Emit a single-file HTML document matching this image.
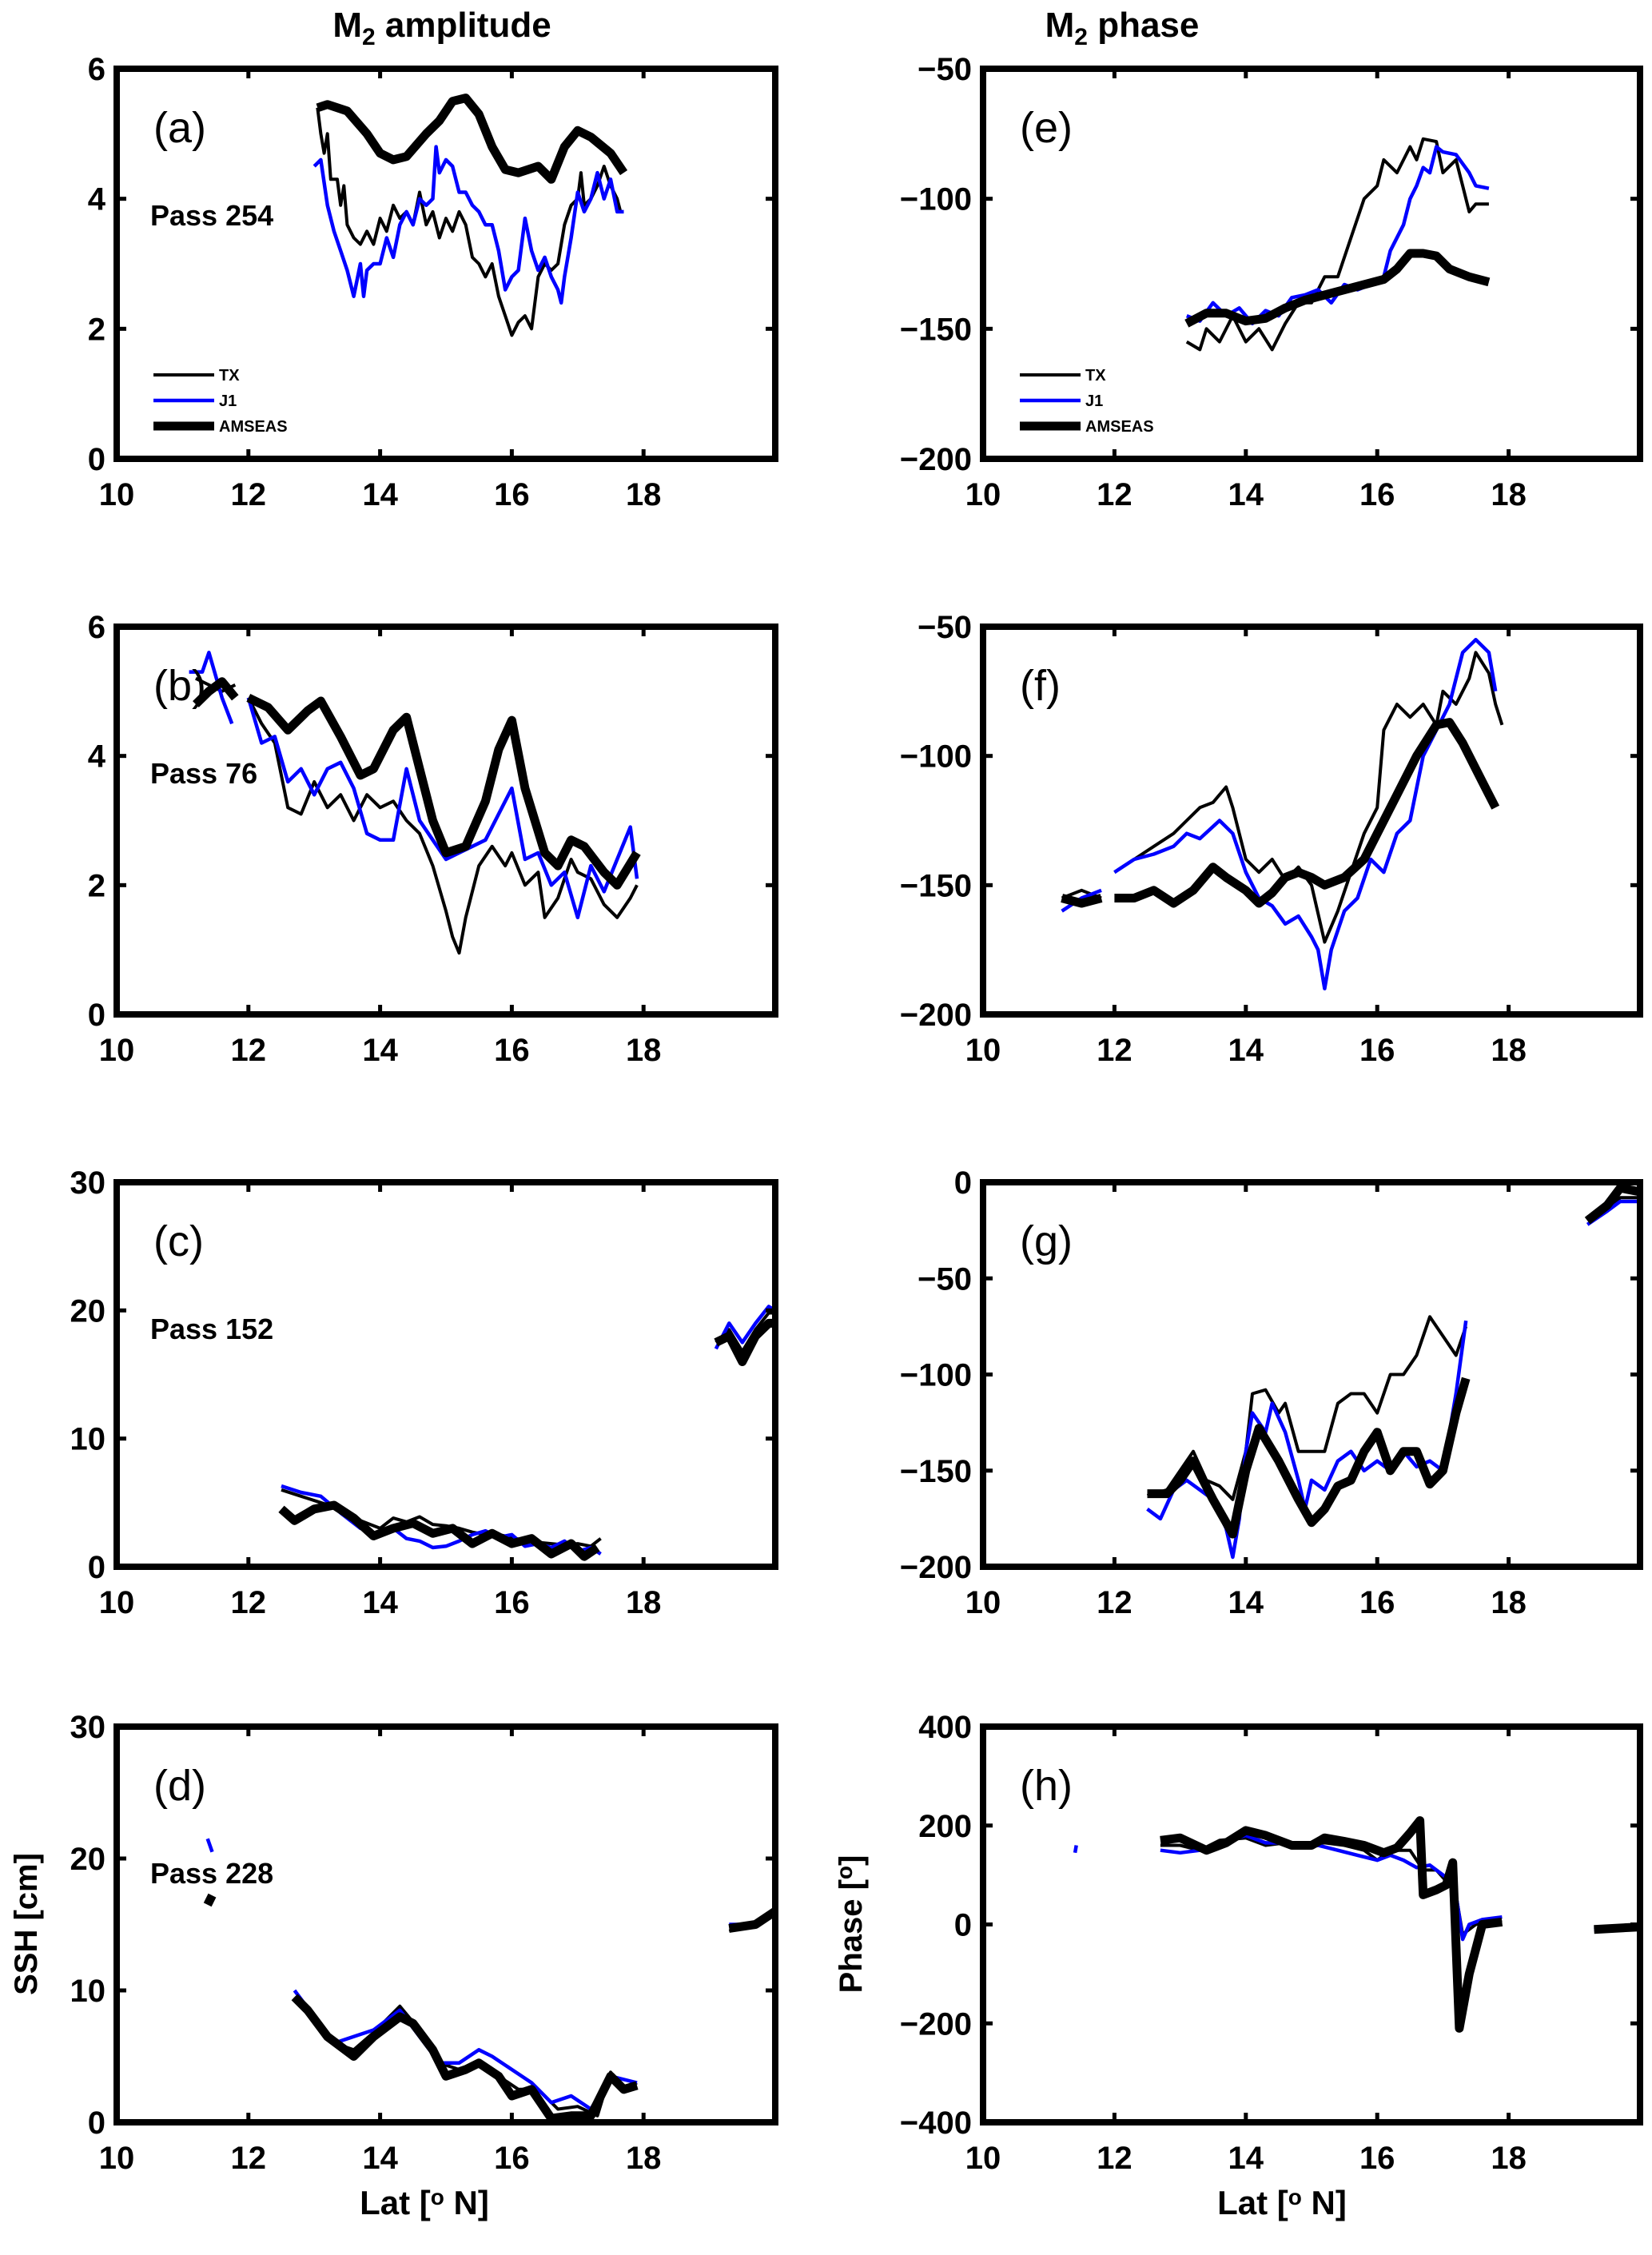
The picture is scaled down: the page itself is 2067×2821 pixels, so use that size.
<!DOCTYPE html>
<html><head><meta charset="utf-8"><style>
html,body{margin:0;padding:0;background:#fff}
svg text{font-family:"Liberation Sans",Arial,sans-serif;font-weight:bold}
</style></head><body>
<svg id="fig" xmlns="http://www.w3.org/2000/svg" width="2067" height="2798" viewBox="0 0 2067 2798"></svg>
<script>
const panelIds=['a','b','c','d','e','f','g','h'];
const passLabels=['Pass 254','Pass 76','Pass 152','Pass 228'];
const xTicks=[10,12,14,16,18];
const yTicksA=[0,2,4,6];
const yTicksC=[0,10,20,30];
const yTicksE=[-200,-150,-100,-50];
const yTicksG=[-200,-150,-100,-50,0];
const yTicksH=[-400,-200,0,200,400];
// data: [lat, value] pairs, null breaks line
const aTX=[[13.05,5.4],[13.1,5.0],[13.15,4.7],[13.2,5.0],[13.25,4.3],[13.35,4.3],[13.4,3.9],[13.45,4.2],[13.5,3.6],[13.6,3.4],[13.7,3.3],[13.8,3.5],[13.9,3.3],[14.0,3.7],[14.1,3.5],[14.2,3.9],[14.3,3.7],[14.4,3.8],[14.5,3.6],[14.6,4.1],[14.7,3.6],[14.8,3.8],[14.9,3.4],[15.0,3.7],[15.1,3.5],[15.2,3.8],[15.3,3.6],[15.4,3.1],[15.5,3.0],[15.6,2.8],[15.7,3.0],[15.8,2.5],[15.9,2.2],[16.0,1.9],[16.1,2.1],[16.2,2.2],[16.3,2.0],[16.4,2.8],[16.5,3.0],[16.6,2.9],[16.7,3.0],[16.8,3.6],[16.9,3.9],[17.0,4.0],[17.05,4.4],[17.1,3.9],[17.2,4.0],[17.3,4.2],[17.4,4.5],[17.5,4.2],[17.6,4.0],[17.65,3.8]];
const aJ1=[[13.0,4.5],[13.1,4.6],[13.2,3.9],[13.3,3.5],[13.4,3.2],[13.5,2.9],[13.6,2.5],[13.7,3.0],[13.75,2.5],[13.8,2.9],[13.9,3.0],[14.0,3.0],[14.1,3.4],[14.2,3.1],[14.3,3.6],[14.4,3.8],[14.5,3.6],[14.6,4.0],[14.7,3.9],[14.8,4.0],[14.85,4.8],[14.9,4.4],[15.0,4.6],[15.1,4.5],[15.2,4.1],[15.3,4.1],[15.4,3.9],[15.5,3.8],[15.6,3.6],[15.7,3.6],[15.8,3.2],[15.9,2.6],[16.0,2.8],[16.1,2.9],[16.2,3.7],[16.3,3.2],[16.4,2.9],[16.5,3.1],[16.6,2.8],[16.7,2.6],[16.75,2.4],[16.8,2.8],[16.9,3.4],[17.0,4.1],[17.1,3.8],[17.2,4.0],[17.3,4.4],[17.4,4.0],[17.5,4.3],[17.6,3.8],[17.7,3.8]];
const aAM=[[13.05,5.4],[13.2,5.45],[13.5,5.35],[13.8,5.0],[14.0,4.7],[14.2,4.6],[14.4,4.65],[14.7,5.0],[14.9,5.2],[15.1,5.5],[15.3,5.55],[15.5,5.3],[15.7,4.8],[15.9,4.45],[16.1,4.4],[16.4,4.5],[16.6,4.3],[16.8,4.8],[17.0,5.05],[17.2,4.95],[17.5,4.7],[17.7,4.4]];
const bTX=[[11.2,5.2],[11.4,5.1],[11.6,5.0],[11.8,5.1],null,[12.0,4.9],[12.2,4.5],[12.4,4.2],[12.6,3.2],[12.8,3.1],[13.0,3.6],[13.2,3.2],[13.4,3.4],[13.6,3.0],[13.8,3.4],[14.0,3.2],[14.2,3.3],[14.4,3.0],[14.6,2.8],[14.8,2.3],[15.0,1.6],[15.1,1.2],[15.2,0.95],[15.3,1.5],[15.5,2.3],[15.7,2.6],[15.9,2.3],[16.0,2.5],[16.2,2.0],[16.4,2.2],[16.5,1.5],[16.7,1.8],[16.9,2.4],[17.0,2.2],[17.2,2.1],[17.4,1.7],[17.6,1.5],[17.8,1.8],[17.9,2.0]];
const bJ1=[[11.1,5.3],[11.3,5.3],[11.4,5.6],[11.6,4.9],[11.75,4.5],null,[12.0,4.9],[12.2,4.2],[12.4,4.3],[12.6,3.6],[12.8,3.8],[13.0,3.4],[13.2,3.8],[13.4,3.9],[13.6,3.5],[13.8,2.8],[14.0,2.7],[14.2,2.7],[14.4,3.8],[14.6,3.0],[14.8,2.7],[15.0,2.4],[15.2,2.5],[15.4,2.6],[15.6,2.7],[15.8,3.1],[16.0,3.5],[16.2,2.4],[16.4,2.5],[16.6,2.0],[16.8,2.2],[17.0,1.5],[17.2,2.3],[17.4,1.9],[17.6,2.4],[17.8,2.9],[17.9,2.1]];
const bAM=[[11.2,4.8],[11.4,5.0],[11.6,5.15],[11.8,4.9],null,[12.0,4.9],[12.3,4.75],[12.6,4.4],[12.9,4.7],[13.1,4.85],[13.4,4.3],[13.7,3.7],[13.9,3.8],[14.2,4.4],[14.4,4.6],[14.6,3.8],[14.8,3.0],[15.0,2.5],[15.3,2.6],[15.6,3.3],[15.8,4.1],[16.0,4.55],[16.2,3.5],[16.5,2.5],[16.7,2.3],[16.9,2.7],[17.1,2.6],[17.4,2.2],[17.6,2.0],[17.9,2.5]];
const cTX=[[12.5,6.0],[12.8,5.5],[13.1,5.0],[13.4,4.5],[13.7,3.6],[14.0,3.0],[14.2,3.8],[14.4,3.5],[14.6,3.9],[14.8,3.3],[15.0,3.2],[15.2,3.0],[15.4,2.7],[15.6,2.5],[15.8,2.5],[16.0,2.3],[16.2,2.0],[16.4,1.9],[16.6,1.8],[16.8,1.7],[17.0,1.8],[17.2,1.6],[17.35,2.2],null,[19.1,17.5],[19.3,18.5],[19.5,16.8],[19.7,18.5],[19.9,19.8],[20.0,19.8]];
const cJ1=[[12.5,6.3],[12.8,5.8],[13.1,5.5],[13.4,4.2],[13.7,3.0],[14.0,2.5],[14.2,3.0],[14.4,2.2],[14.6,2.0],[14.8,1.5],[15.0,1.6],[15.2,2.0],[15.4,2.5],[15.6,2.8],[15.8,2.3],[16.0,2.5],[16.2,1.6],[16.4,1.8],[16.6,1.5],[16.8,2.0],[17.0,1.2],[17.2,1.5],[17.35,1.0],null,[19.1,17.0],[19.3,19.0],[19.5,17.5],[19.7,19.0],[19.9,20.3],[20.0,20.0]];
const cAM=[[12.5,4.5],[12.7,3.6],[13.0,4.5],[13.3,4.8],[13.6,3.8],[13.9,2.4],[14.2,3.0],[14.5,3.4],[14.8,2.6],[15.1,3.0],[15.4,1.8],[15.7,2.6],[16.0,1.8],[16.3,2.2],[16.6,1.0],[16.9,1.8],[17.1,0.8],[17.3,1.5],null,[19.1,17.5],[19.3,18.0],[19.5,16.0],[19.7,18.0],[19.9,19.0],[20.0,19.0]];
const dTX=[[12.7,9.5],[13.0,8.0],[13.3,6.0],[13.6,5.5],[13.9,6.8],[14.3,8.8],[14.6,7.0],[14.9,4.5],[15.2,4.0],[15.5,4.5],[15.8,3.5],[16.1,2.5],[16.4,2.5],[16.7,1.0],[17.0,1.2],[17.3,0.5],[17.5,3.8],[17.7,2.6],[17.9,3.0],null,[19.3,14.5],[19.7,15.0],[20.0,15.8]];
const dJ1=[[11.38,21.5],[11.45,20.5],null,[12.7,10],[13.0,8.0],[13.3,6.0],[13.6,6.5],[13.9,7.0],[14.3,8.5],[14.6,6.5],[14.9,4.5],[15.2,4.5],[15.5,5.5],[15.7,5.0],[16.0,4.0],[16.3,3.0],[16.6,1.5],[16.9,2.0],[17.2,1.0],[17.5,3.5],[17.9,3.0],null,[19.3,15],[19.7,15.0],[20.0,16]];
const dAM=[[11.38,16.5],[11.45,17.2],null,[12.7,9.5],[12.9,8.5],[13.2,6.5],[13.6,5.0],[13.9,6.5],[14.3,8.0],[14.5,7.5],[14.8,5.5],[15.0,3.5],[15.3,4.0],[15.5,4.5],[15.8,3.5],[16.0,2.0],[16.3,2.5],[16.6,0.3],[16.9,0.5],[17.2,0.5],[17.5,3.5],[17.7,2.5],[17.9,2.8],null,[19.3,14.7],[19.7,15.0],[20.0,16.0]];
const eTX=[[13.1,-155],[13.3,-158],[13.4,-150],[13.6,-155],[13.8,-145],[14.0,-155],[14.2,-150],[14.4,-158],[14.6,-148],[14.8,-140],[15.0,-140],[15.2,-130],[15.4,-130],[15.6,-115],[15.8,-100],[16.0,-95],[16.1,-85],[16.3,-90],[16.5,-80],[16.6,-85],[16.7,-77],[16.9,-78],[17.0,-90],[17.2,-85],[17.3,-95],[17.4,-105],[17.5,-102],[17.7,-102]];
const eJ1=[[13.1,-145],[13.3,-147],[13.5,-140],[13.7,-145],[13.9,-142],[14.1,-148],[14.3,-143],[14.5,-145],[14.7,-138],[14.9,-137],[15.1,-135],[15.3,-140],[15.5,-133],[15.7,-135],[15.9,-133],[16.1,-130],[16.2,-120],[16.4,-110],[16.5,-100],[16.6,-95],[16.7,-88],[16.8,-90],[16.9,-80],[17.0,-82],[17.2,-83],[17.4,-90],[17.5,-95],[17.7,-96]];
const eAM=[[13.1,-148],[13.4,-144],[13.7,-144],[14.0,-147],[14.3,-146],[14.6,-142],[14.9,-139],[15.2,-137],[15.5,-135],[15.8,-133],[16.1,-131],[16.3,-127],[16.5,-121],[16.7,-121],[16.9,-122],[17.1,-127],[17.4,-130],[17.7,-132]];
const fTX=[[11.2,-155],[11.5,-152],[11.8,-155],null,[12.0,-145],[12.3,-140],[12.6,-135],[12.9,-130],[13.1,-125],[13.3,-120],[13.5,-118],[13.7,-112],[13.8,-120],[14.0,-140],[14.2,-145],[14.4,-140],[14.6,-148],[14.8,-143],[15.0,-150],[15.2,-172],[15.4,-160],[15.6,-145],[15.8,-130],[16.0,-120],[16.1,-90],[16.3,-80],[16.5,-85],[16.7,-80],[16.9,-88],[17.0,-75],[17.2,-80],[17.4,-70],[17.5,-60],[17.7,-68],[17.8,-80],[17.9,-88]];
const fJ1=[[11.2,-160],[11.5,-155],[11.8,-152],null,[12.0,-145],[12.3,-140],[12.6,-138],[12.9,-135],[13.1,-130],[13.3,-132],[13.6,-125],[13.8,-130],[14.0,-145],[14.2,-155],[14.4,-158],[14.6,-165],[14.8,-162],[15.0,-170],[15.1,-175],[15.2,-190],[15.3,-175],[15.5,-160],[15.7,-155],[15.9,-140],[16.1,-145],[16.3,-130],[16.5,-125],[16.7,-100],[16.9,-90],[17.1,-80],[17.3,-60],[17.5,-55],[17.7,-60],[17.8,-75]];
const fAM=[[11.2,-155],[11.5,-157],[11.8,-155],null,[12.0,-155],[12.3,-155],[12.6,-152],[12.9,-157],[13.2,-152],[13.5,-143],[13.7,-147],[14.0,-152],[14.2,-157],[14.4,-153],[14.6,-147],[14.8,-145],[15.0,-147],[15.2,-150],[15.5,-147],[15.8,-140],[16.0,-130],[16.3,-115],[16.6,-100],[16.9,-88],[17.1,-87],[17.3,-95],[17.6,-110],[17.8,-120]];
const gTX=[[12.5,-163],[12.8,-160],[13.0,-150],[13.2,-140],[13.4,-155],[13.6,-158],[13.8,-165],[14.0,-140],[14.1,-110],[14.3,-108],[14.5,-120],[14.6,-115],[14.8,-140],[15.0,-140],[15.2,-140],[15.4,-115],[15.6,-110],[15.8,-110],[16.0,-120],[16.2,-100],[16.4,-100],[16.6,-90],[16.8,-70],[17.0,-80],[17.2,-90],[17.35,-75],null,[19.2,-18],[19.5,-15],[19.7,-8],[20.0,-8]];
const gJ1=[[12.5,-170],[12.7,-175],[12.9,-160],[13.1,-155],[13.3,-160],[13.5,-165],[13.7,-180],[13.8,-195],[13.9,-175],[14.0,-140],[14.1,-120],[14.3,-130],[14.4,-115],[14.6,-130],[14.8,-155],[14.9,-170],[15.0,-155],[15.2,-160],[15.4,-145],[15.6,-140],[15.8,-150],[16.0,-145],[16.2,-150],[16.4,-140],[16.6,-148],[16.8,-145],[17.0,-150],[17.2,-110],[17.35,-72],null,[19.2,-22],[19.5,-15],[19.7,-10],[20.0,-10]];
const gAM=[[12.5,-162],[12.8,-162],[13.0,-155],[13.2,-145],[13.5,-165],[13.8,-183],[14.0,-150],[14.2,-128],[14.5,-145],[14.8,-165],[15.0,-177],[15.2,-170],[15.4,-158],[15.6,-155],[15.8,-140],[16.0,-130],[16.2,-150],[16.4,-140],[16.6,-140],[16.8,-157],[17.0,-150],[17.2,-120],[17.35,-102],null,[19.2,-20],[19.5,-12],[19.7,-3],[20.0,-5]];
const hTX=[[12.7,160],[13.0,160],[13.3,150],[13.6,170],[14.0,175],[14.3,160],[14.6,165],[14.9,160],[15.2,165],[15.5,160],[15.8,150],[16.0,130],[16.2,150],[16.5,150],[16.7,110],[16.9,110],[17.1,80],[17.2,60],[17.3,-20],[17.5,0],[17.7,5],[17.9,5],null,[19.3,-10],[20.0,-5]];
const hJ1=[[11.4,145],[11.42,160],null,[12.7,150],[13.0,145],[13.3,150],[13.6,165],[14.0,180],[14.3,165],[14.6,165],[14.9,155],[15.1,160],[15.4,150],[15.7,140],[16.0,130],[16.2,140],[16.4,130],[16.6,115],[16.8,120],[17.0,100],[17.1,90],[17.2,60],[17.3,-30],[17.4,0],[17.6,10],[17.9,15],null,[19.3,-10],[20.0,-5]];
const hAM=[[12.7,170],[13.0,175],[13.4,150],[13.7,165],[14.0,190],[14.3,180],[14.7,160],[15.0,160],[15.2,175],[15.5,168],[15.8,160],[16.1,145],[16.3,155],[16.5,185],[16.65,210],[16.7,60],[16.9,70],[17.05,80],[17.15,125],[17.25,-210],[17.4,-100],[17.6,0],[17.9,5],null,[19.3,-10],[20.0,-5]];

const panels=[
 {id:'a',x0:146,x1:970,y0:86,y1:574,ymin:0,ymax:6,ticks:yTicksA,tx:aTX,j1:aJ1,am:aAM,pass:passLabels[0],legend:true},
 {id:'b',x0:146,x1:970,y0:784,y1:1269,ymin:0,ymax:6,ticks:yTicksA,tx:bTX,j1:bJ1,am:bAM,pass:passLabels[1]},
 {id:'c',x0:146,x1:970,y0:1479,y1:1960,ymin:0,ymax:30,ticks:yTicksC,tx:cTX,j1:cJ1,am:cAM,pass:passLabels[2]},
 {id:'d',x0:146,x1:970,y0:2160,y1:2655,ymin:0,ymax:30,ticks:yTicksC,tx:dTX,j1:dJ1,am:dAM,pass:passLabels[3]},
 {id:'e',x0:1230,x1:2052,y0:86,y1:574,ymin:-200,ymax:-50,ticks:yTicksE,tx:eTX,j1:eJ1,am:eAM,legend:true},
 {id:'f',x0:1230,x1:2052,y0:784,y1:1269,ymin:-200,ymax:-50,ticks:yTicksE,tx:fTX,j1:fJ1,am:fAM},
 {id:'g',x0:1230,x1:2052,y0:1479,y1:1960,ymin:-200,ymax:0,ticks:yTicksG,tx:gTX,j1:gJ1,am:gAM},
 {id:'h',x0:1230,x1:2052,y0:2160,y1:2655,ymin:-400,ymax:400,ticks:yTicksH,tx:hTX,j1:hJ1,am:hAM}
];
const NS='http://www.w3.org/2000/svg';
const svg=document.getElementById('fig');
function mk(tag,attrs,parent){const e=document.createElementNS(NS,tag);for(const k in attrs)e.setAttribute(k,attrs[k]);(parent||svg).appendChild(e);return e;}
function txt(s,attrs,parent){const e=mk('text',attrs,parent);e.textContent=s;return e;}

panels.forEach(p=>{
  const g=mk('g',{});
  
  
  const sx=v=>p.x0+(v-10)/10*(p.x1-p.x0);
  const sy=v=>p.y1-(v-p.ymin)/(p.ymax-p.ymin)*(p.y1-p.y0);
  const cp=mk('clipPath',{id:'clip'+p.id},g);
  mk('rect',{x:p.x0,y:p.y0,width:p.x1-p.x0,height:p.y1-p.y0},cp);
  const series=[[p.tx,'#000',4,'tx-line'],[p.j1,'#0000ff',4.5,'j1-line'],[p.am,'#000',11,'amseas-line']];
  series.forEach(([data,col,w,nm])=>{
    let d='',pen=false;
    data.forEach(pt=>{if(!pt){pen=false;return;}d+=(pen?'L':'M')+sx(pt[0]).toFixed(1)+','+sy(pt[1]).toFixed(1);pen=true;});
    const path=mk('path',{d:d,fill:'none',stroke:col,'stroke-width':w,'stroke-linejoin':'round','clip-path':'url(#clip'+p.id+')'},g);
    
    
  });
  // frame
  const fr=mk('rect',{x:p.x0,y:p.y0,width:p.x1-p.x0,height:p.y1-p.y0,fill:'none',stroke:'#000','stroke-width':8},g);
  
  
  xTicks.forEach(t=>{
    const x=sx(t);
    mk('line',{x1:x,x2:x,y1:p.y1,y2:p.y1-12,stroke:'#000','stroke-width':5},g);
    mk('line',{x1:x,x2:x,y1:p.y0,y2:p.y0+12,stroke:'#000','stroke-width':5},g);
    const l=txt(String(t),{x:x,y:p.y1+58,'font-size':40,'text-anchor':'middle'},g);
    
    
  });
  p.ticks.forEach(t=>{
    const y=sy(t);
    mk('line',{x1:p.x0,x2:p.x0+12,y1:y,y2:y,stroke:'#000','stroke-width':5},g);
    mk('line',{x1:p.x1,x2:p.x1-12,y1:y,y2:y,stroke:'#000','stroke-width':5},g);
    const l=txt(String(t).replace('-','\u2212'),{x:p.x0-14,y:y+14,'font-size':40,'text-anchor':'end'},g);
    
    
  });
  const pl=txt('('+p.id+')',{x:p.x0+46,y:p.y0+92,'font-size':54,'font-weight':'normal',style:'font-weight:normal'},g);
  
  
  if(p.pass){
    const ps=txt(p.pass,{x:p.x0+42,y:p.y0+196,'font-size':36},g);
    
    
  }
  if(p.legend){
    const lg=mk('g',{},g);
    
    
    [['TX','#000',4,383],['J1','#0000ff',4.5,415],['AMSEAS','#000',11,447]].forEach(([n,c,w,dy])=>{
      mk('line',{x1:p.x0+46,x2:p.x0+122,y1:p.y0+dy,y2:p.y0+dy,stroke:c,'stroke-width':w},lg);
      const t=txt(n,{x:p.x0+128,y:p.y0+dy+7,'font-size':20},lg);
      
      
    });
  }
});
</script>
<svg width="0" height="0"></svg>
<div style="position:absolute;left:0;top:0;width:2067px;height:2798px;pointer-events:none">
<svg width="2067" height="2798" style="position:absolute;left:0;top:0">
<text x="553" y="46" font-size="44" text-anchor="middle" font-family="Liberation Sans" font-weight="bold">M<tspan font-size="30" dy="10">2</tspan><tspan dy="-10"> amplitude</tspan></text>
<text x="1404" y="46" font-size="44" text-anchor="middle" font-family="Liberation Sans" font-weight="bold">M<tspan font-size="30" dy="10">2</tspan><tspan dy="-10"> phase</tspan></text>
<text transform="translate(46,2407) rotate(-90)" font-size="40" text-anchor="middle" font-family="Liberation Sans" font-weight="bold">SSH [cm]</text>
<text transform="translate(1078,2407) rotate(-90)" font-size="40" text-anchor="middle" font-family="Liberation Sans" font-weight="bold">Phase [<tspan font-size="28" dy="-12">o</tspan><tspan dy="12">]</tspan></text>
<text x="531" y="2770" font-size="42" text-anchor="middle" font-family="Liberation Sans" font-weight="bold">Lat [<tspan font-size="28" dy="-12">o</tspan><tspan dy="12"> N]</tspan></text>
<text x="1604" y="2770" font-size="42" text-anchor="middle" font-family="Liberation Sans" font-weight="bold">Lat [<tspan font-size="28" dy="-12">o</tspan><tspan dy="12"> N]</tspan></text>
</svg></div>
</body></html>
